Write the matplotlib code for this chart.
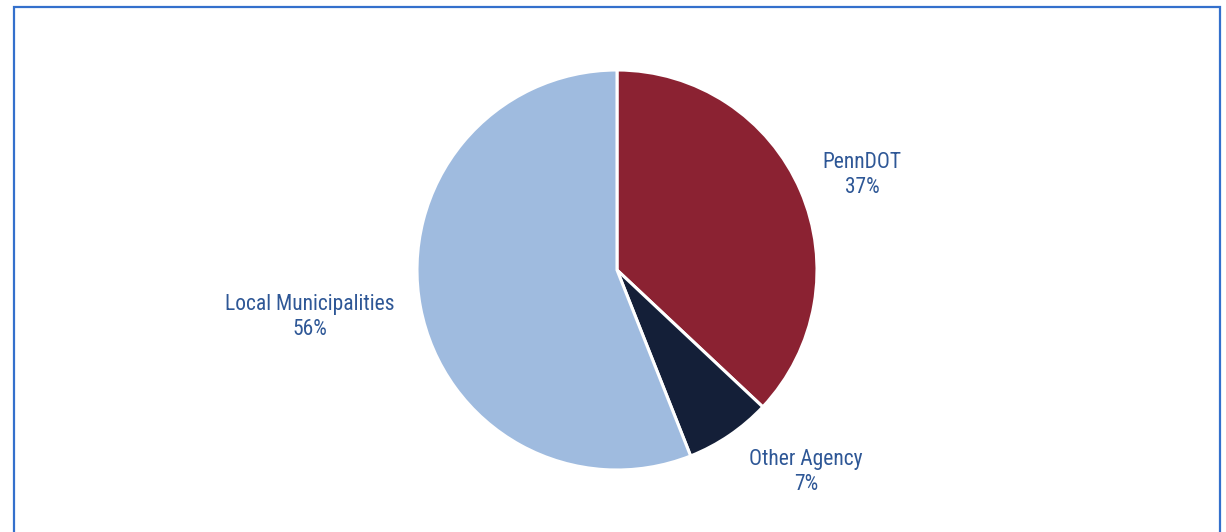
import matplotlib
matplotlib.use("Agg")
import matplotlib.pyplot as plt
from matplotlib.patches import Rectangle
from matplotlib import font_manager

labels = ["PennDOT", "Other Agency", "Local Municipalities"]
values = [37, 7, 56]
colors = ["#8B2232", "#141F38", "#9FBBDF"]
label_pos = [(1.225, 0.475), (0.945, -1.008), (-1.535, -0.235)]

text_color = "#2E5796"
available = {f.name for f in font_manager.fontManager.ttflist}
narrow = [n for n in ["Liberation Sans Narrow", "Arial Narrow", "Roboto Condensed"] if n in available]
if narrow:
    font = [narrow[0], "DejaVu Sans"]
    fsize = 15.5
else:
    font = ["Liberation Sans", "DejaVu Sans"]
    fsize = 14

fig = plt.figure(figsize=(12.26, 5.32), dpi=100)
fig.patch.set_facecolor("white")

ax = fig.add_axes([417 / 1226, 62 / 532, 400 / 1226, 400 / 532])
ax.pie(values, colors=colors, startangle=90, counterclock=False,
       wedgeprops=dict(edgecolor="white", linewidth=2.2))
ax.set_xlim(-1, 1)
ax.set_ylim(-1, 1)
ax.set_aspect("equal")
ax.axis("off")

total = sum(values)
for lab, v, (x, y) in zip(labels, values, label_pos):
    ax.text(x, y, f"{lab}\n{round(100 * v / total)}%", ha="center", va="center",
            color=text_color, fontsize=fsize, family=font, linespacing=1.25,
            clip_on=False)

border = Rectangle((13.5 / 1226, -0.1), (1220.0 - 13.5) / 1226, 1.1 - 6.5 / 532,
                   transform=fig.transFigure, fill=False, edgecolor="#3470CC",
                   linewidth=1.6, clip_on=False)
fig.add_artist(border)

fig.savefig("out.png", dpi=100, facecolor="white")
